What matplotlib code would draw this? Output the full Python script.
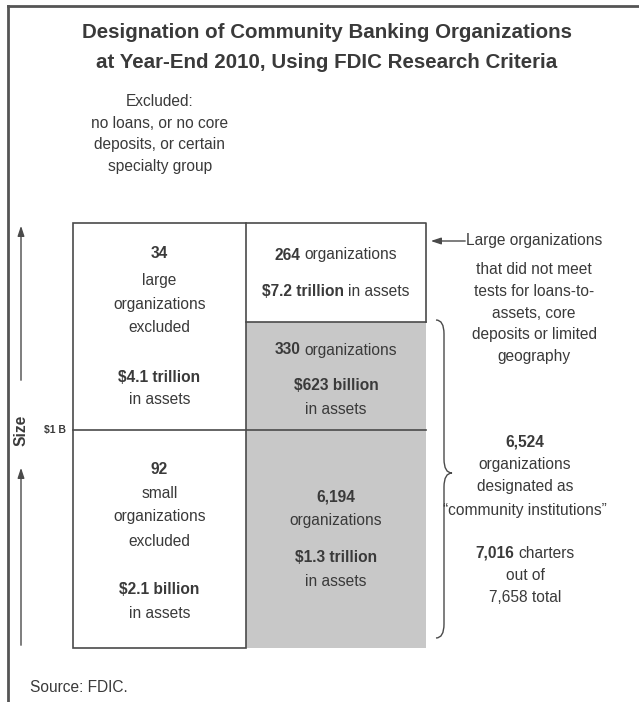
import matplotlib
matplotlib.use("Agg")
import matplotlib.pyplot as plt
from matplotlib.patches import Rectangle, PathPatch
from matplotlib.path import Path

# No narrow face installed, so plain Liberation Sans at a smaller size
FONT = ['Liberation Sans', 'DejaVu Sans']

INK = '#3a3a3a'
LINE = '#4a4a4a'
GREY = '#c8c8c8'

# ---- data ----
title_lines = ["Designation of Community Banking Organizations",
               "at Year-End 2010, Using FDIC Research Criteria"]
excluded_note = ["Excluded:", "no loans, or no core", "deposits, or certain", "specialty group"]

cell_counts = ["34", "264", "330", "92", "6,194"]
cell_assets = ["$4.1 trillion", "$7.2 trillion", "$623 billion", "$2.1 billion", "$1.3 trillion"]

large_note = ["Large organizations", "that did not meet", "tests for loans-to-",
              "assets, core", "deposits or limited", "geography"]
community_count = "6,524"
community_note = ["organizations", "designated as", "\u201ccommunity institutions\u201d"]
charters = "7,016"
charters_total = "7,658"
size_cut = "$1 B"
source = "Source: FDIC."

fig = plt.figure(figsize=(6.39, 7.02), dpi=100)
ax = fig.add_axes([0, 0, 1, 1])
ax.set_xlim(0, 639)
ax.set_ylim(702, 0)
ax.axis('off')
renderer = fig.canvas.get_renderer()

BODY = 11.2


def width_of(s, bold, size):
    t = ax.text(0, 0, s, fontsize=size, family=FONT,
                fontweight='bold' if bold else 'normal')
    w = t.get_window_extent(renderer).width
    t.remove()
    return w


def rich_line(x, y, parts, size=BODY, color=INK):
    # parts is a list of (text, bold); centred on x
    space = width_of("a a", False, size) - width_of("aa", False, size)
    widths = [width_of(s, b, size) for s, b in parts]
    total = sum(widths) + space * (len(parts) - 1)
    cx = x - total / 2
    for (s, b), w in zip(parts, widths):
        ax.text(cx, y, s, fontsize=size, family=FONT, color=color,
                fontweight='bold' if b else 'normal', ha='left', va='center')
        cx += w + space


def text_block(x, ys, lines, size=BODY):
    for y, ln in zip(ys, lines):
        if isinstance(ln, str):
            ln = [(ln, False)]
        rich_line(x, y, ln, size)


# frame (top and left only)
ax.plot([8, 639], [6, 6], color='#555555', lw=2)
ax.plot([8, 8], [6, 702], color='#555555', lw=2)

# title
for y, s in zip([33, 63], title_lines):
    ax.text(327, y, s, fontsize=14.8, fontweight='bold', family=FONT,
            color=INK, ha='center', va='center')

text_block(160, [102, 124, 145, 167], excluded_note)

# grid
x0, x1, x2 = 73, 246, 426
y_top, y_split, y_cut, y_bot = 223, 322, 430, 648
ax.add_patch(Rectangle((x1, y_split), x2 - x1, y_bot - y_split, facecolor=GREY,
                       edgecolor='none'))
ax.add_patch(Rectangle((x0, y_top), x1 - x0, y_bot - y_top, facecolor='none',
                       edgecolor=LINE, lw=1.2))
ax.plot([x1, x2, x2], [y_top, y_top, y_split], color=LINE, lw=1.2)
ax.plot([x1, x2], [y_split, y_split], color=LINE, lw=1.2)
ax.plot([x0, x2], [y_cut, y_cut], color=LINE, lw=1.2)

cl = (x0 + x1) / 2
cr = (x1 + x2) / 2
text_block(cl, [253, 281, 304, 327, 377, 400],
           [[(cell_counts[0], True)], "large", "organizations", "excluded",
            [(cell_assets[0], True)], "in assets"])
text_block(cr, [255, 292],
           [[(cell_counts[1], True), ("organizations", False)],
            [(cell_assets[1], True), ("in assets", False)]])
text_block(cr, [350, 385, 410],
           [[(cell_counts[2], True), ("organizations", False)],
            [(cell_assets[2], True)], "in assets"])
text_block(cl, [469, 493, 517, 541, 590, 613],
           [[(cell_counts[3], True)], "small", "organizations", "excluded",
            [(cell_assets[3], True)], "in assets"])
text_block(cr, [497, 521, 557, 581],
           [[(cell_counts[4], True)], "organizations",
            [(cell_assets[4], True)], "in assets"])

# size axis
arrow = dict(arrowstyle='-|>,head_length=0.6,head_width=0.2', color=LINE, lw=1)
ax.annotate('', xy=(21, 223), xytext=(21, 383), arrowprops=arrow)
ax.annotate('', xy=(21, 465), xytext=(21, 648), arrowprops=arrow)
ax.text(21, 430, "Size", rotation=90, fontsize=BODY, fontweight='bold',
        family=FONT, color=INK, ha='center', va='center')
ax.text(55, 430, size_cut, fontsize=7.5, fontweight='bold', family=FONT,
        color=INK, ha='center', va='center')

# right notes
ax.annotate('', xy=(428, 241), xytext=(468, 241), arrowprops=arrow)
text_block(534, [241, 270, 292, 313, 335, 357], large_note)


def brace(x, ya, yb, w):
    ym = (ya + yb) / 2 - 6
    h = w / 2
    r = 14
    verts = [(x, ya), (x + h, ya), (x + h, ya + r),
             (x + h, ym - r), (x + h, ym), (x + w, ym),
             (x + h, ym), (x + h, ym + r),
             (x + h, yb - r), (x + h, yb), (x, yb)]
    codes = [Path.MOVETO, Path.CURVE3, Path.CURVE3,
             Path.LINETO, Path.CURVE3, Path.CURVE3,
             Path.CURVE3, Path.CURVE3,
             Path.LINETO, Path.CURVE3, Path.CURVE3]
    ax.add_patch(PathPatch(Path(verts, codes), facecolor='none',
                           edgecolor=LINE, lw=1))


brace(436, y_split - 2, y_bot - 10, 16)

text_block(525, [442, 465, 487, 510, 553, 575, 597],
           [[(community_count, True)], community_note[0], community_note[1],
            community_note[2],
            [(charters, True), ("charters", False)], "out of",
            charters_total + " total"])

ax.text(30, 687, source, fontsize=BODY, family=FONT, color=INK,
        ha='left', va='center')

fig.savefig("out.png", dpi=100)
